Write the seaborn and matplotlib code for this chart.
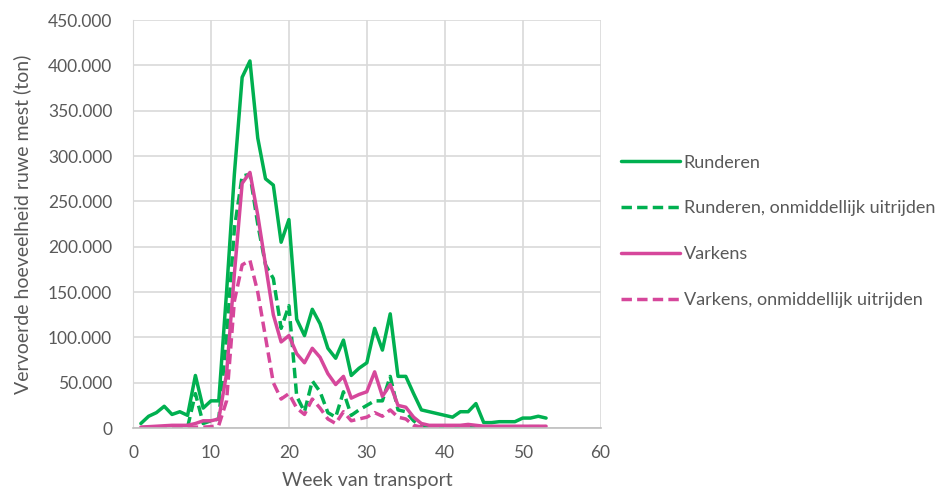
import matplotlib
matplotlib.use("Agg")
import matplotlib.pyplot as plt
import matplotlib.ticker as mticker
import pandas as pd
import seaborn as sns

# weken 1 t/m 53
weken = list(range(1, 54))

runderen = [5000, 13000, 17000, 24000, 15000, 18000, 14000, 58000, 22000, 30000,
            30000, 150000, 280000, 387000, 405000, 320000, 275000, 268000, 205000, 230000,
            120000, 102000, 131000, 115000, 88000, 77000, 97000, 58000, 66000, 72000,
            110000, 86000, 126000, 57000, 57000, 38000, 20000, 18000, 16000, 14000,
            12000, 18000, 18000, 27000, 6000, 6000, 7000, 7000, 7000, 11000,
            11000, 13000, 11000]

runderen_direct = [500, 1000, 1000, 1500, 1000, 1500, 1000, 38000, 5000, 8000,
                   10000, 100000, 220000, 278000, 280000, 225000, 180000, 165000, 110000, 135000,
                   35000, 18000, 52000, 40000, 17000, 12000, 40000, 14000, 20000, 25000,
                   30000, 30000, 57000, 20000, 18000, 8000, 2000, 1500, 1500, 1000,
                   1000, 1500, 1500, 2000, 1000, 1000, 1000, 1000, 1000, 1500,
                   1500, 1500, 1500]

varkens = [1000, 1500, 2000, 2500, 3000, 3000, 3000, 5000, 8000, 8000,
           10000, 60000, 170000, 270000, 282000, 235000, 180000, 125000, 95000, 102000,
           82000, 72000, 88000, 78000, 60000, 48000, 57000, 33000, 37000, 40000,
           62000, 35000, 48000, 25000, 23000, 12000, 5000, 3000, 3000, 3000,
           3000, 3000, 4000, 3000, 2000, 2000, 2000, 2000, 2000, 2000,
           2000, 2000, 2000]

varkens_direct = [0, 0, 500, 500, 500, 500, 500, 1000, 1000, 1500,
                  3000, 30000, 140000, 180000, 185000, 150000, 100000, 50000, 32000, 38000,
                  22000, 15000, 32000, 22000, 10000, 5000, 18000, 8000, 10000, 12000,
                  17000, 13000, 20000, 12000, 10000, 3000, 1000, 1000, 1000, 1000,
                  1000, 1000, 1000, 1000, 500, 500, 500, 500, 500, 500,
                  500, 500, 500]

groen = "#00B050"
roze = "#D6479B"
grijs = "#595959"

series = [
    ("Runderen", runderen, groen, "-"),
    ("Runderen, onmiddellijk uitrijden", runderen_direct, groen, (0, (3, 1.5))),
    ("Varkens", varkens, roze, "-"),
    ("Varkens, onmiddellijk uitrijden", varkens_direct, roze, (0, (3, 1.5))),
]

sns.set_style("white")
plt.rcParams["font.family"] = ["Lato", "DejaVu Sans"]

fig = plt.figure(figsize=(9.37, 4.92), dpi=100)
ax = fig.add_axes([0.142, 0.130, 0.499, 0.829])

for naam, waarden, kleur, stijl in series:
    df = pd.DataFrame({"week": weken, "ton": waarden})
    sns.lineplot(data=df, x="week", y="ton", ax=ax, color=kleur, linestyle=stijl,
                 linewidth=2.5, label=naam)

ax.set_xlim(0, 60)
ax.set_ylim(0, 450000)
ax.set_xticks(range(0, 61, 10))
ax.set_yticks(range(0, 450001, 50000))
ax.yaxis.set_major_formatter(mticker.FuncFormatter(lambda v, p: f"{int(v):,}".replace(",", ".")))
ax.grid(True, color="#d9d9d9", linewidth=1.2)
ax.set_axisbelow(True)
for s in ["top", "right"]:
    ax.spines[s].set_visible(False)
ax.spines["left"].set_color("#d9d9d9")
ax.spines["bottom"].set_color("#bfbfbf")
ax.spines["bottom"].set_linewidth(1.2)
ax.tick_params(axis="both", length=0, labelsize=12.5, colors=grijs)
ax.tick_params(axis="y", pad=15)
ax.tick_params(axis="x", pad=12)

ax.set_xlabel("Week van transport", fontsize=14, color=grijs, labelpad=8)
ax.set_ylabel("Vervoerde hoeveelheid ruwe mest (ton)", fontsize=14, color=grijs, labelpad=12)

handles, labels = ax.get_legend_handles_labels()
ax.get_legend().remove()
fig.legend(handles, labels, loc="center left", bbox_to_anchor=(0.645, 0.53),
           frameon=False, fontsize=13, labelcolor=grijs, handlelength=3.3,
           handletextpad=0.2, labelspacing=1.65)

fig.savefig("out.png", dpi=100)
